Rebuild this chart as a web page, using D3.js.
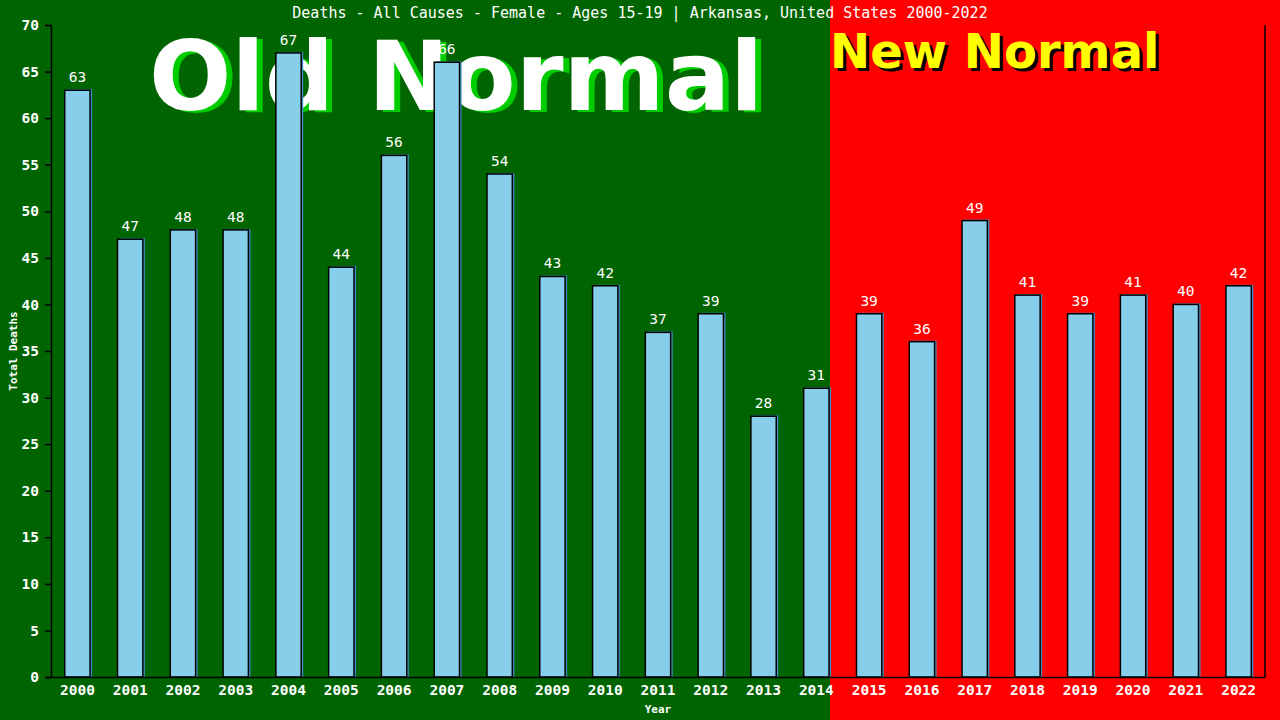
<!DOCTYPE html>
<html>
<head>
<meta charset="utf-8">
<script src="https://cdn.jsdelivr.net/npm/d3@7"></script>
<style>
  html, body { margin: 0; padding: 0; background: #006400; }
</style>
</head>
<body>
<svg id="chart" width="1280" height="720"></svg>
<script>
const years = ['2000', '2001', '2002', '2003', '2004', '2005', '2006', '2007', '2008', '2009', '2010', '2011',
  '2012', '2013', '2014', '2015', '2016', '2017', '2018', '2019', '2020', '2021', '2022'];
const deaths = [63, 47, 48, 48, 67, 44, 56, 66, 54, 43, 42, 37, 39, 28, 31, 39, 36, 49, 41, 39, 41, 40, 42];
const yTicks = d3.range(0, 75, 5);
const lastOldYear = '2014';

const mono = '"DejaVu Sans Mono", monospace';
const sans = '"DejaVu Sans", sans-serif';

const config = {
  width: 1280,
  height: 720,
  margin: { top: 25, right: 15, bottom: 43, left: 51 }
};

const svg = d3.select('#chart');
const innerW = config.width - config.margin.left - config.margin.right;
const innerH = config.height - config.margin.top - config.margin.bottom;

const x = d3.scaleBand()
  .domain(years)
  .range([config.margin.left, config.margin.left + innerW])
  .paddingInner(0.52)
  .paddingOuter(0.26);

const y = d3.scaleLinear()
  .domain([0, 70])
  .range([config.margin.top + innerH, config.margin.top]);

// background zones
const splitX = x(lastOldYear) + x.bandwidth() + 1;
svg.append('rect')
  .attr('x', 0).attr('y', 0)
  .attr('width', splitX).attr('height', config.height)
  .attr('fill', '#006400');
svg.append('rect')
  .attr('x', splitX).attr('y', 0)
  .attr('width', config.width - splitX).attr('height', config.height)
  .attr('fill', '#ff0000');

// big zone labels
function bigLabel(text, xPos, yPos, size, color, shadow, dx, dy) {
  svg.append('text')
    .attr('x', xPos + dx).attr('y', yPos + dy)
    .attr('fill', shadow)
    .style('font-family', sans).style('font-weight', 'bold').style('font-size', size)
    .text(text);
  svg.append('text')
    .attr('x', xPos).attr('y', yPos)
    .attr('fill', color)
    .style('font-family', sans).style('font-weight', 'bold').style('font-size', size)
    .text(text);
}
bigLabel('Old Normal', 149, 110, '97px', '#ffffff', '#00cc00', 6, 2);
bigLabel('New Normal', splitX, 68, '48px', '#ffff00', '#000000', 3, 3);

// title
svg.append('text')
  .attr('x', 640).attr('y', 18)
  .attr('text-anchor', 'middle')
  .attr('fill', '#ffffff')
  .style('font-family', mono)
  .style('font-size', '15px')
  .text('Deaths - All Causes - Female - Ages 15-19 | Arkansas, United States 2000-2022');

// bars
const bars = svg.append('g').selectAll('g')
  .data(years.map((yr, i) => ({ year: yr, value: deaths[i] })))
  .enter()
  .append('g');

bars.append('rect')
  .attr('x', d => x(d.year) + 2)
  .attr('y', d => y(d.value) - 1)
  .attr('width', x.bandwidth())
  .attr('height', d => y(0) - y(d.value) + 1)
  .attr('fill', '#3d8ec4');

bars.append('rect')
  .attr('x', d => x(d.year))
  .attr('y', d => y(d.value))
  .attr('width', x.bandwidth())
  .attr('height', d => y(0) - y(d.value))
  .attr('fill', '#87ceeb')
  .attr('stroke', '#000000')
  .attr('stroke-width', 1.5);

bars.append('text')
  .attr('x', d => x(d.year) + x.bandwidth() / 2)
  .attr('y', d => y(d.value) - 8)
  .attr('text-anchor', 'middle')
  .attr('fill', '#ffffff')
  .style('font-family', mono)
  .style('font-size', '14.5px')
  .text(d => d.value);

// axes
const yAxis = svg.append('g')
  .attr('transform', `translate(${config.margin.left},0)`)
  .call(d3.axisLeft(y).tickValues(yTicks).tickSize(6).tickPadding(6));
yAxis.select('.domain').attr('stroke', '#000').attr('stroke-width', 1.5);
yAxis.selectAll('.tick line').attr('stroke', '#000').attr('stroke-width', 1.5);
yAxis.selectAll('.tick text').attr('fill', '#ffffff')
  .style('font-size', '14.5px').style('font-family', mono).style('font-weight', 'bold');

const xAxis = svg.append('g')
  .attr('transform', `translate(0,${y(0)})`)
  .call(d3.axisBottom(x).tickSize(0).tickPadding(8).tickSizeOuter(0));
xAxis.select('.domain').attr('stroke', '#000').attr('stroke-width', 1.5);
xAxis.selectAll('.tick text').attr('fill', '#ffffff')
  .style('font-size', '14.5px').style('font-family', mono).style('font-weight', 'bold');

// right border
svg.append('line')
  .attr('x1', config.margin.left + innerW).attr('x2', config.margin.left + innerW)
  .attr('y1', y(70)).attr('y2', y(0))
  .attr('stroke', '#000').attr('stroke-width', 1.5);

// axis titles
svg.append('text')
  .attr('transform', `translate(17,${(y(0) + y(70)) / 2}) rotate(-90)`)
  .attr('text-anchor', 'middle')
  .attr('fill', '#ffffff')
  .style('font-family', mono)
  .style('font-size', '11px')
  .style('font-weight', 'bold')
  .text('Total Deaths');

svg.append('text')
  .attr('x', (x.range()[0] + x.range()[1]) / 2)
  .attr('y', 713)
  .attr('text-anchor', 'middle')
  .attr('fill', '#ffffff')
  .style('font-family', mono)
  .style('font-size', '11px')
  .style('font-weight', 'bold')
  .text('Year');
</script>
</body>
</html>
